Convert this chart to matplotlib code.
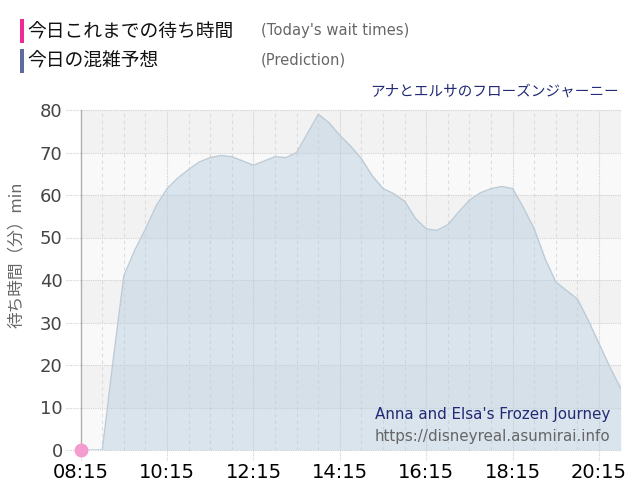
import matplotlib
matplotlib.use("Agg")
import matplotlib.pyplot as plt
from matplotlib.patches import Rectangle
from matplotlib.lines import Line2D

# ---- data ----
pred_times = ["08:15", "08:30", "08:45", "09:00", "09:15", "09:30", "09:45", "10:00",
              "10:15", "10:30", "10:45", "11:00", "11:15", "11:30", "11:45", "12:00",
              "12:15", "12:30", "12:45", "13:00", "13:15", "13:30", "13:45", "14:00",
              "14:15", "14:30", "14:45", "15:00", "15:15", "15:30", "15:45", "16:00",
              "16:15", "16:30", "16:45", "17:00", "17:15", "17:30", "17:45", "18:00",
              "18:15", "18:30", "18:45", "19:00", "19:15", "19:30", "19:45", "20:00",
              "20:15", "20:30", "20:45"]
pred_values = [0, 0, 0, 21, 41, 47, 52, 57.5,
               61.5, 64, 66, 67.8, 68.8, 69.3, 69, 68,
               67, 68, 69, 68.8, 70, 74.5, 79, 77,
               74, 71.5, 68.5, 64.5, 61.5, 60.3, 58.5, 54.5,
               52, 51.7, 53, 56, 58.8, 60.5, 61.5, 62,
               61.5, 57, 52, 45, 39.5, 37.5, 35.5, 30.5,
               25, 19.5, 14.5]
today_times = ["08:15"]
today_values = [0]
tick_labels = ["08:15", "10:15", "12:15", "14:15", "16:15", "18:15", "20:15"]
y_ticks = [0, 10, 20, 30, 40, 50, 60, 70, 80]

attraction_jp = "アナとエルサのフローズンジャーニー"
attraction_en = "Anna and Elsa's Frozen Journey"
site = "https://disneyreal.asumirai.info"

def to_min(s):
    h, m = s.split(":")
    return int(h) * 60 + int(m)

px = [to_min(t) for t in pred_times]
tx = [to_min(t) for t in today_times]
tick_pos = [to_min(t) for t in tick_labels]

JP = ['Noto Sans CJK JP', 'DejaVu Sans']

fig = plt.figure(figsize=(6.4, 5.0), dpi=100)
ax = fig.add_axes([80.7 / 640, 50 / 500, 540 / 640, 340 / 500])

x0, x1 = to_min("08:15"), to_min("20:45")
ax.set_xlim(x0, x1)
ax.set_ylim(0, 80)

# background bands
for i in range(8):
    lo = i * 10
    col = '#f9f9f9' if i % 2 == 0 else '#f2f2f2'
    ax.axhspan(lo, lo + 10, color=col, zorder=0, lw=0)

# grid (with short extensions outside the plot, like tick marks)
ytr = ax.get_yaxis_transform()
xtr = ax.get_xaxis_transform()
ext_x = 15 / 540
ext_y = 10 / 340
for y in y_ticks:
    ax.add_line(Line2D([-ext_x, 1], [y, y], transform=ytr, color='#d2d2d2', lw=0.8,
                       ls=(0, (1, 1)), zorder=1, clip_on=False))
m = x0 + 30
while m <= x1:
    if (m - x0) % 120 == 0:
        ax.axvline(m, color='#cfcfcf', lw=0.8, ls=(0, (1, 1)), zorder=1)
    else:
        ax.axvline(m, color='#dcdcdc', lw=0.8, ls=(0, (3, 3)), zorder=1)
    m += 30
for t in tick_pos:
    ax.add_line(Line2D([t, t], [-ext_y, 0], transform=xtr, color='#d2d2d2', lw=0.8,
                       ls=(0, (1, 1)), zorder=1, clip_on=False))

# prediction area
ax.fill_between(px, pred_values, 0, color='#b5cbe0', alpha=0.45, lw=0, zorder=2)
ax.plot(px, pred_values, color='#bccbd6', lw=1.0, zorder=3)

# today's wait
ax.plot(tx, today_values, 'o', color='#f49ccf', ms=9, zorder=5, clip_on=False)

# axes styling
for s in ['top', 'right', 'bottom']:
    ax.spines[s].set_visible(False)
ax.spines['left'].set_color('#b0b0b0')
ax.spines['left'].set_linewidth(1.0)
ax.set_xticks(tick_pos)
ax.set_xticklabels(tick_labels, fontsize=14, color='black', family='DejaVu Sans')
ax.set_yticks(y_ticks)
ax.set_yticklabels([str(v) for v in y_ticks], fontsize=13, color='#444444')
ax.tick_params(axis='x', length=0, pad=9)
ax.tick_params(axis='y', length=0, pad=13)

# y label
fig.text(16 / 640, 1 - 255 / 500, "待ち時間（分）min", rotation=90, ha='center', va='center',
         fontsize=12, color='#666666', family=JP)

# legend
fig.add_artist(Rectangle((20 / 640, 1 - 43 / 500), 4 / 640, 24 / 500,
                         transform=fig.transFigure, color='#ee2a94', lw=0))
fig.add_artist(Rectangle((20 / 640, 1 - 73 / 500), 4 / 640, 24 / 500,
                         transform=fig.transFigure, color='#5d6c9c', lw=0))
fig.text(27 / 640, 1 - 32 / 500, "今日これまでの待ち時間", ha='left', va='center',
         fontsize=13.5, color='#111111', family=JP)
fig.text(27 / 640, 1 - 61 / 500, "今日の混雑予想", ha='left', va='center',
         fontsize=13.5, color='#111111', family=JP)
fig.text(261 / 640, 1 - 31 / 500, "(Today's wait times)", ha='left', va='center',
         fontsize=10.6, color='#666666', family='DejaVu Sans')
fig.text(261 / 640, 1 - 60 / 500, "(Prediction)", ha='left', va='center',
         fontsize=10.6, color='#666666', family='DejaVu Sans')

# title
fig.text(619 / 640, 1 - 92 / 500, attraction_jp, ha='right', va='center',
         fontsize=10.5, color='#232a75', family=JP)

# watermark
ax.text(0.981, 1 - (415 - 110) / 340, attraction_en, transform=ax.transAxes, ha='right',
        va='center', fontsize=10.9, color='#232a75', family='DejaVu Sans', zorder=6)
ax.text(0.981, 1 - (436 - 110) / 340, site, transform=ax.transAxes, ha='right',
        va='center', fontsize=10.9, color='#666666', family='DejaVu Sans', zorder=6)

fig.savefig("out.png", dpi=100)
